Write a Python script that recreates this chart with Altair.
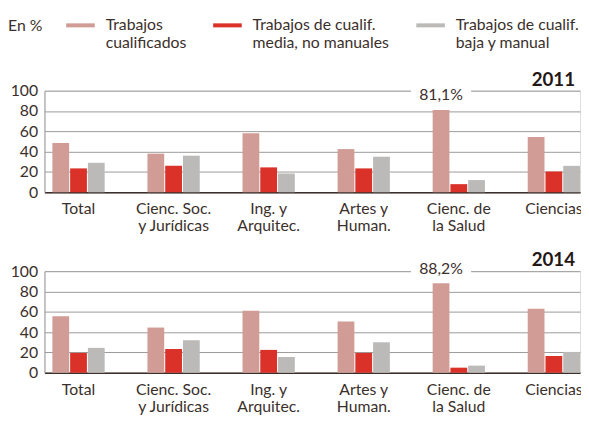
import altair as alt
import pandas as pd

categories = ["Total", "Cienc. Soc.|y Jurídicas", "Ing. y|Arquitec.", "Artes y|Human.",
              "Cienc. de|la Salud", "Ciencias"]
series = ["Trabajos|cualificados", "Trabajos de cualif.|media, no manuales",
          "Trabajos de cualif.|baja y manual"]
colors = ["#D19C96", "#DA3129", "#BBBAB8"]

cualificados_2011 = [48.5, 38, 58, 42.5, 81.1, 54.5]
media_2011 = [23.5, 26, 24.5, 23.5, 8, 20.5]
baja_2011 = [29, 36, 18.5, 35, 12, 26]

cualificados_2014 = [55.5, 44.5, 61, 50.5, 88.2, 63]
media_2014 = [19.5, 23.5, 22.5, 19.5, 5, 16.5]
baja_2014 = [24.5, 32, 15.5, 30, 7, 20.5]

years = ["2011", "2014"]
ann_labels = ["81,1%", "88,2%"]
ann_ypos = [95.5, 102]
y_ticks = [0, 20, 40, 60, 80, 100]

TEXT = "#3b2f2b"
GRID = "#9c9a98"
FONT = "Lato"
W, H = 543, 103


def make_df(vals):
    rows = []
    for s, v in zip(series, vals):
        for c, val in zip(categories, v):
            rows.append({"cat": c, "series": s, "value": val})
    return pd.DataFrame(rows)


def panel(year, vals, ann_label, ann_pos):
    df = make_df(vals)
    x = alt.X("cat:N", sort=categories,
              scale=alt.Scale(paddingInner=0.45, paddingOuter=0.0415, align=1),
              axis=alt.Axis(title=None, labelExpr="split(datum.label, '|')", labelAngle=0,
                            domainColor=TEXT, domainWidth=1.5, ticks=False, labelPadding=9,
                            labelFontSize=16, labelLineHeight=17, labelColor=TEXT,
                            labelFont=FONT, grid=False))
    yscale = alt.Scale(domain=[0, 100], nice=False)
    yaxis = alt.Axis(title=None, values=y_ticks, grid=True,
                     gridColor=GRID, gridWidth=1, domainColor=GRID, ticks=False,
                     labelOverlap=False, labelFlush=False,
                     labelPadding=7, labelFontSize=16, labelColor=TEXT, labelFont=FONT)
    xo = alt.XOffset("series:N", sort=series,
                     scale=alt.Scale(paddingInner=0.056, paddingOuter=0))
    color = alt.Color("series:N", sort=series,
                      scale=alt.Scale(domain=series, range=colors),
                      legend=alt.Legend(title="En %", orient="none", legendX=-37, legendY=-81,
                                        direction="horizontal",
                                        titleOrient="left", titleAnchor="start",
                                        titleBaseline="line-top", titleLineHeight=31,
                                        labelExpr="split(datum.label, '|')",
                                        symbolType="M-1,-0.14H1V0.14H-1Z", symbolSize=841,
                                        symbolStrokeWidth=0, symbolOpacity=1,
                                        labelFontSize=16, labelColor=TEXT,
                                        labelFont=FONT, titleFont=FONT, titleFontSize=16,
                                        titleFontWeight="normal", titleColor=TEXT,
                                        titlePadding=24, columnPadding=27, labelOffset=11,
                                        labelLimit=300))
    bars = alt.Chart(df).mark_bar().encode(
        x=x, xOffset=xo, y=alt.Y("value:Q", scale=yscale, axis=yaxis), color=color)

    ann_df = pd.DataFrame({"cat": [categories[4]], "series": [series[0]], "value": [100],
                           "ypos": [ann_pos], "label": [ann_label], "year": [year]})
    box = alt.Chart(ann_df).mark_point(shape="M-1,-0.2H1V0.2H-1Z", filled=True, fill="white",
                                       opacity=1, size=3721, strokeWidth=0).encode(
        x=x, xOffset=xo, y=alt.Y("value:Q", scale=yscale, axis=yaxis))
    text = alt.Chart(ann_df).mark_text(fontSize=16, color=TEXT, font=FONT).encode(
        x=x, xOffset=xo, y=alt.Y("ypos:Q", scale=yscale, axis=yaxis), text="label:N")
    ytitle = alt.Chart(ann_df).mark_text(fontSize=19, fontWeight="bold", color="#231815",
                                         font=FONT, align="right", baseline="alphabetic").encode(
        x=alt.value(W - 5), y=alt.value(-5), text="year:N")

    return alt.layer(bars, box, text, ytitle).properties(width=W, height=H)


top = panel(years[0], [cualificados_2011, media_2011, baja_2011], ann_labels[0], ann_ypos[0])
bottom = panel(years[1], [cualificados_2014, media_2014, baja_2014], ann_labels[1], ann_ypos[1])

chart = alt.vconcat(top, bottom, spacing=16).properties(
    padding={"left": 0, "right": -2, "top": 0, "bottom": -3}
).configure_view(stroke=None).configure(font=FONT)

chart.save("out.html", embed_options={"renderer": "svg", "actions": False})
